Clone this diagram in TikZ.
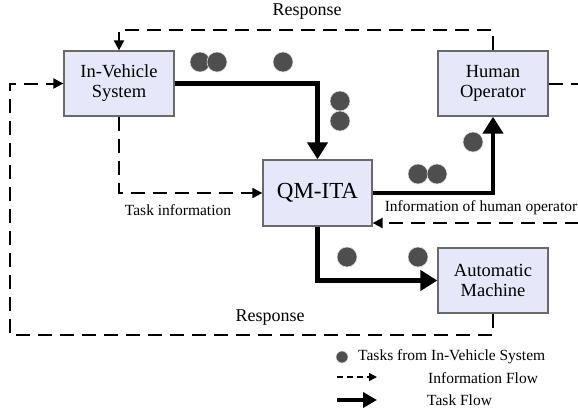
\documentclass[tikz,border=0pt]{standalone}
\usepackage{fontspec}
\setmainfont{Liberation Serif}
\usetikzlibrary{arrows.meta}
\newcommand{\DotRad}{10}

\definecolor{boxfill}{RGB}{230,232,250}
\definecolor{boxline}{RGB}{105,105,105}
\definecolor{dotgray}{RGB}{78,78,78}

\tikzset{
  unit/.style={draw=boxline, line width=1.3pt, fill=boxfill, minimum width=110pt,
    minimum height=65pt, align=center, font=\fontsize{18.5}{20}\selectfont, inner sep=0pt},
  info/.style={line width=2pt, dash pattern=on 14pt off 8pt},
  task/.style={line width=4.5pt, -{Triangle[length=17pt,width=20pt]}},
  tip/.style={-{Triangle[length=10pt,width=10pt]}},
  taskdot/.style={fill=dotgray, draw=white!75!gray, line width=0.6pt},
  lbl/.style={font=\fontsize{15.5}{17}\selectfont, inner sep=0pt}
}

\begin{document}
\begin{tikzpicture}[x=1pt, y=-1pt]
\useasboundingbox (0,0) rectangle (578,413);

% the four units
\node[unit] (ivs) at (119,83.5) {In-Vehicle\\System};
\node[unit] (ho) at (493,83.5) {Human\\Operator};
\node[unit, minimum width=109pt, minimum height=66pt, font=\fontsize{23}{25}\selectfont] (qm) at (317.5,193) {QM-ITA};
\node[unit] (am) at (493,280.5) {Automatic\\Machine};

% corners of the information loops (rb sits just off the page edge)
\coordinate (rtop) at (300,30);
\coordinate (lb) at (10,335);
\coordinate (rb) at (582,223);

% information flow
\draw[info, tip] (ho.north) |- (rtop) -| (ivs.north);
\draw[info, tip] (am.south) |- (lb) |- (ivs.west);
\draw[info, tip] (ivs.south) |- (qm.west);
\draw[info, tip] (ho.east) -| (rb) -- (qm.east |- rb);

\node[font=\fontsize{18}{20}\selectfont, inner sep=0pt] (resp1) at (307,12) {Response};
\node[font=\fontsize{18}{20}\selectfont, inner sep=0pt] (resp2) at (270,318) {Response};
\node[lbl] (tinfo) at (178,210) {Task information};
\node[lbl] (hinfo) at (481,208) {Information of human operator};

% task flow
\draw[task] (ivs.east) -| (qm.north);
\draw[task] (qm.east) -| (ho.south);
\draw[task] (qm.south) |- (am.west);

% tasks on their way
\draw[taskdot] (200,62) circle [radius=\DotRad];
\draw[taskdot] (217,62) circle [radius=\DotRad];
\draw[taskdot] (283,62) circle [radius=\DotRad];
\draw[taskdot] (340,101) circle [radius=\DotRad];
\draw[taskdot] (340,121) circle [radius=\DotRad];
\draw[taskdot] (473,142) circle [radius=\DotRad];
\draw[taskdot] (418,174) circle [radius=\DotRad];
\draw[taskdot] (437,174) circle [radius=\DotRad];
\draw[taskdot] (347,257) circle [radius=\DotRad];
\draw[taskdot] (418,257) circle [radius=\DotRad];

% legend
\draw[taskdot] (342,357) circle [radius=6];
\node[lbl, anchor=west] (lg1) at (358,357) {Tasks from In-Vehicle System};
\coordinate (la) at (337,377);
\coordinate (lc) at (337,400);
\node[lbl, anchor=west] (lg2) at (428,378) {Information Flow};
\node[lbl, anchor=west] (lg3) at (427,400) {Task Flow};
\draw[line width=1.5pt, dash pattern=on 6pt off 4pt, -{Triangle[length=8pt,width=8pt]}] (la) -- ++(40,0);
\draw[line width=4pt, -{Triangle[length=14pt,width=15pt]}] (lc) -- ++(40,0);

\end{tikzpicture}
\end{document}
